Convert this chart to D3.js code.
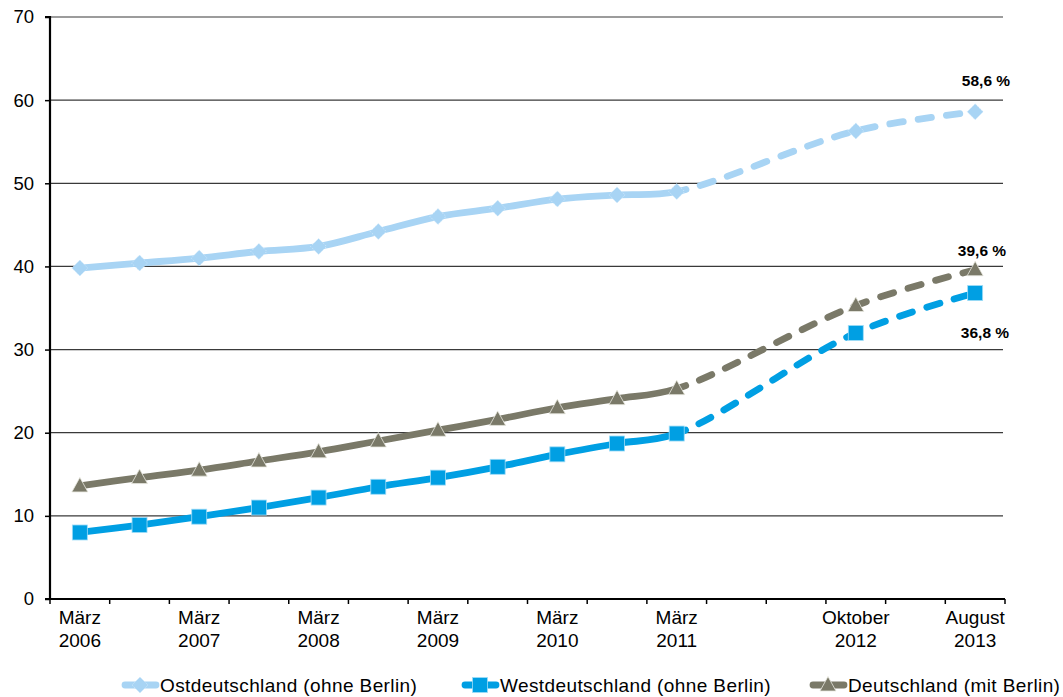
<!DOCTYPE html>
<html><head><meta charset="utf-8">
<script src="https://cdn.jsdelivr.net/npm/d3@7"></script>
<style>body{margin:0;background:#fff}svg{display:block;font-family:"Liberation Sans",Arial,sans-serif}</style>
</head><body><svg id="c" width="1063" height="697"></svg>
<script>
const periods = ["März 2006","Sep 2006","März 2007","Sep 2007","März 2008","Sep 2008","März 2009","Sep 2009","März 2010","Sep 2010","März 2011","Sep 2011","März 2012","Oktober 2012","Feb 2013","August 2013"];
const tickLabels = [["März","2006"],[],["März","2007"],[],["März","2008"],[],["März","2009"],[],["März","2010"],[],["März","2011"],[],[],["Oktober","2012"],[],["August","2013"]];
const yTicks = [0,10,20,30,40,50,60,70];
const seriesNames = ["Ostdeutschland (ohne Berlin)","Westdeutschland (ohne Berlin)","Deutschland (mit Berlin)"];
const ost  = [39.8,40.4,41.0,41.8,42.4,44.2,46.0,47.0,48.1,48.6,49.0,null,null,56.3,null,58.6];
const west = [8.0,8.9,9.9,11.0,12.2,13.5,14.6,15.9,17.4,18.7,19.9,null,null,32.0,null,36.8];
const de   = [13.6,14.6,15.5,16.6,17.7,19.0,20.3,21.6,23.0,24.1,25.3,null,null,35.3,null,39.6];
const endLabels = ["58,6 %","36,8 %","39,6 %"];
const solidUntil = 10;

const colors = ["#A8D4F4","#009FE3","#7A7968"];
const shapes = ["diamond","square","triangle"];
const L=50,R=1005,T=17,B=599;
const svg = d3.select("#c");
const x = d3.scaleBand().domain(d3.range(periods.length)).range([L,R]).paddingInner(0).paddingOuter(0);
const y = d3.scaleLinear().domain([0,70]).range([B,T]);
const cx = i => x(i)+x.bandwidth()/2;

// gridlines
svg.append("g").selectAll("line").data(yTicks.filter(v=>v>0)).join("line")
  .attr("x1",L).attr("x2",R-2).attr("y1",d=>y(d)).attr("y2",d=>y(d))
  .attr("stroke","#3a3a3a").attr("stroke-width",1.2);

// y axis
const ya = svg.append("g").attr("transform",`translate(${L},0)`).call(d3.axisLeft(y).tickValues(yTicks).tickSize(5).tickPadding(11));
ya.select(".domain").attr("stroke","#000").attr("stroke-width",2.2).attr("d",`M-5,${B}H0V${T}H-5`);
ya.selectAll(".tick line").attr("stroke","#000").attr("stroke-width",1.5);
ya.selectAll("text").attr("font-size",18.5).attr("fill","#000").attr("font-family","Liberation Sans, Arial, sans-serif");

// x axis
const xa = svg.append("g");
xa.append("line").attr("x1",L).attr("x2",R).attr("y1",B).attr("y2",B).attr("stroke","#000").attr("stroke-width",2);
const bounds = d3.range(periods.length+1).map(i=> i<periods.length ? x(i) : x(periods.length-1)+x.bandwidth());
xa.selectAll("line.t").data(bounds).join("line").attr("class","t")
  .attr("x1",d=>d).attr("x2",d=>d).attr("y1",B).attr("y2",B+5).attr("stroke","#000").attr("stroke-width",1.5);
periods.forEach((p,i)=>{
  const lab = tickLabels[i];
  if(!lab.length) return;
  const t = xa.append("text").attr("x",cx(i)).attr("text-anchor","middle").attr("font-size",19).attr("fill","#000");
  lab.forEach((s,k)=>t.append("tspan").attr("x",cx(i)).attr("y",624+k*23).text(s));
});

// clip paths
const defs = svg.append("defs");
defs.append("clipPath").attr("id","solidClip").append("rect").attr("x",0).attr("y",0).attr("width",cx(solidUntil)).attr("height",697);
defs.append("clipPath").attr("id","dashClip").append("rect").attr("x",cx(solidUntil)).attr("y",0).attr("width",1063).attr("height",697);

const data = [ost,west,de];
const line = d3.line().defined(d=>d[1]!=null).x(d=>cx(d[0])).y(d=>y(d[1])).curve(d3.curveCatmullRom.alpha(0.5));

function marker(g, shape, px, py, color){
  if(shape==="diamond"){
    g.append("path").attr("d",`M${px},${py-8}L${px+8},${py}L${px},${py+8}L${px-8},${py}Z`).attr("fill",color).attr("stroke","#d4ebfb").attr("stroke-width",0.8).attr("stroke-dasharray","1.5,1.5");
  } else if(shape==="square"){
    g.append("rect").attr("x",px-7.5).attr("y",py-7.5).attr("width",15).attr("height",15).attr("fill",color).attr("stroke","#9fdcf7").attr("stroke-width",0.8);
  } else {
    g.append("path").attr("d",`M${px},${py-8.5}L${px+8},${py+6}L${px-8},${py+6}Z`).attr("fill",color).attr("stroke","#e8e8e0").attr("stroke-width",0.8);
  }
}

data.forEach((vals,si)=>{
  const pts = vals.map((v,i)=>[i,v]).filter(d=>d[1]!=null);
  const g = svg.append("g");
  g.append("path").attr("d",line(pts)).attr("fill","none").attr("stroke",colors[si]).attr("stroke-width",6.8)
    .attr("stroke-linejoin","round").attr("clip-path","url(#solidClip)");
  g.append("path").attr("d",line(pts)).attr("fill","none").attr("stroke",colors[si]).attr("stroke-width",6.8)
    .attr("stroke-linecap","round").attr("clip-path","url(#dashClip)")
    .attr("class","dashp");
  pts.forEach(d=>marker(g,shapes[si],cx(d[0]),y(d[1]),colors[si]));
});
// apply dash pattern starting at solid boundary
svg.selectAll("path.dashp").each(function(){
  const p=this, len=p.getTotalLength();
  let lo=0,hi=len;
  for(let k=0;k<40;k++){const m=(lo+hi)/2; if(p.getPointAtLength(m).x<cx(solidUntil)) lo=m; else hi=m;}
  d3.select(p).attr("stroke-dasharray","13.5,15").attr("stroke-dashoffset",-lo+4);
});

// end labels
const lastI = periods.length-1;
const lblPos = [[986,y(ost[lastI])-26],[985,y(west[lastI])+45],[982,y(de[lastI])-14]];
endLabels.forEach((t,i)=>{
  svg.append("text").attr("x",lblPos[i][0]).attr("y",lblPos[i][1]).attr("text-anchor","middle")
    .attr("font-size",15.5).attr("font-weight","bold").attr("fill","#000").text(t);
});

// legend
const legX = [122,462,810];
seriesNames.forEach((n,i)=>{
  const g = svg.append("g");
  g.append("line").attr("x1",legX[i]+3).attr("x2",legX[i]+34).attr("y1",685).attr("y2",685).attr("stroke",colors[i]).attr("stroke-width",6.8).attr("stroke-linecap","round");
  marker(g,shapes[i],legX[i]+18,685,colors[i]);
  g.append("text").attr("x",legX[i]+38).attr("y",692).attr("font-size",19).attr("letter-spacing",0.4).attr("fill","#000").text(n);
});
</script></body></html>
